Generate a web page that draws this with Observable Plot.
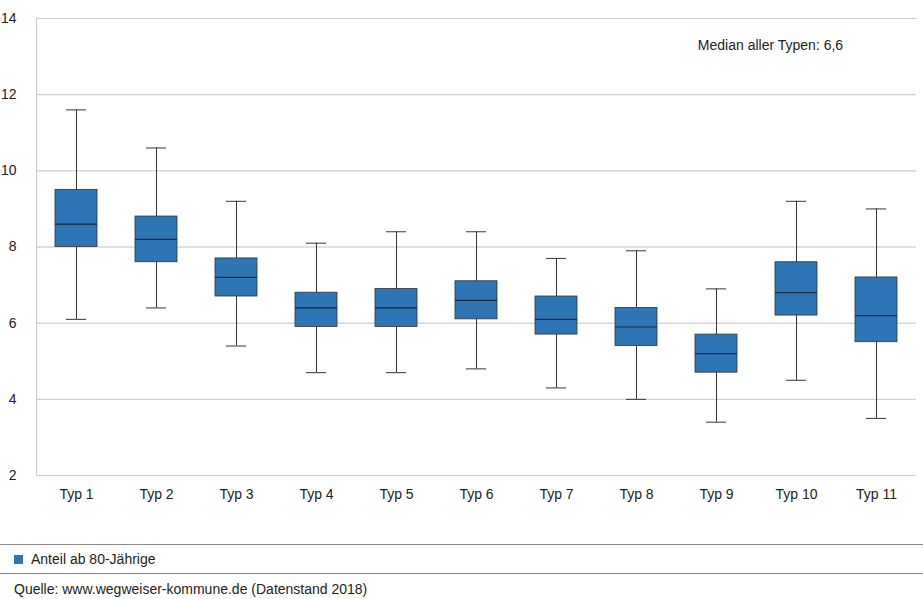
<!DOCTYPE html>
<html><head><meta charset="utf-8">
<script src="https://cdn.jsdelivr.net/npm/d3@7"></script>
<script src="https://cdn.jsdelivr.net/npm/@observablehq/plot@0.6"></script>
<style>
body{margin:0;font-family:"Liberation Sans",Arial,sans-serif;background:#fff}
.leg{border-top:1px solid #888;border-bottom:1px solid #888;margin-top:34px;padding:6px 14px;font-size:14px;color:#222}
.leg span{display:inline-block;width:9px;height:9px;background:#2e75b6;margin-right:8px}
.src{padding:7px 14px;font-size:14px;color:#222}
</style></head><body>
<div id="chart"></div>
<div class="leg"><span></span>Anteil ab 80-Jährige</div>
<div class="src">Quelle: www.wegweiser-kommune.de (Datenstand 2018)</div>
<script>
const typen = ['Typ 1','Typ 2','Typ 3','Typ 4','Typ 5','Typ 6','Typ 7','Typ 8','Typ 9','Typ 10','Typ 11']
const minW = [6.1,6.4,5.4,4.7,4.7,4.8,4.3,4.0,3.4,4.5,3.5]
const q1 = [8.0,7.6,6.7,5.9,5.9,6.1,5.7,5.4,4.7,6.2,5.5]
const med = [8.6,8.2,7.2,6.4,6.4,6.6,6.1,5.9,5.2,6.8,6.2]
const q3 = [9.5,8.8,7.7,6.8,6.9,7.1,6.7,6.4,5.7,7.6,7.2]
const maxW = [11.6,10.6,9.2,8.1,8.4,8.4,7.7,7.9,6.9,9.2,9.0]
const data = typen.map((t, i) => ({typ: t, min: minW[i], q1: q1[i], med: med[i], q3: q3[i], max: maxW[i]}))

let chart = Plot.plot({
  width: 923, height: 510,
  marginLeft: 36, marginRight: 7, marginTop: 18, marginBottom: 35,
  style: {fontSize: '14px', fontFamily: '"Liberation Sans",Arial,sans-serif', color: '#222'},
  x: {domain: typen, padding: 0, label: null, tickSize: 0, tickPadding: 14},
  y: {domain: [2, 14], ticks: [2,4,6,8,10,12,14], label: null, tickSize: 0, tickPadding: 20, grid: true},
  marks: [
    Plot.gridY([2,4,6,8,10,12,14], {stroke: '#ccc', strokeOpacity: 1}),
    Plot.ruleX([0], {x: () => typen[0], stroke: '#ccc', dx: -40}),
    Plot.ruleX(data, {x: 'typ', y1: 'min', y2: 'max', stroke: '#333'}),
    Plot.tickY(data, {x: 'typ', y: 'min', stroke: '#333', insetLeft: 30, insetRight: 30}),
    Plot.tickY(data, {x: 'typ', y: 'max', stroke: '#333', insetLeft: 30, insetRight: 30}),
    Plot.barY(data, {x: 'typ', y1: 'q1', y2: 'q3', fill: '#2e75b6', stroke: '#333', strokeWidth: 0.8, insetLeft: 19, insetRight: 19}),
    Plot.tickY(data, {x: 'typ', y: 'med', stroke: '#1a2a3a', strokeWidth: 1.2, insetLeft: 19, insetRight: 19}),
    Plot.text(['Median aller Typen: 6,6'], {x: () => 'Typ 10', y: () => 13.3, dx: -26, fontSize: 14, fill: '#222'})
  ]
})
document.querySelector('#chart').append(chart)
</script>
</body></html>
